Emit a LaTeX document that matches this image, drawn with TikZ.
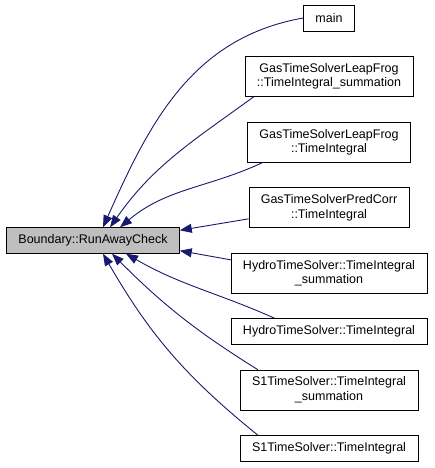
\documentclass[tikz,border=0pt]{standalone}
\usepackage{fontspec}
\setmainfont{Liberation Sans}
\usetikzlibrary{positioning, arrows.meta}
\definecolor{edgeblue}{HTML}{191970}
\definecolor{rootgrey}{HTML}{BFBFBF}
\tikzstyle{caller} = [rectangle, draw=black, fill=white, align=center, inner xsep=12pt, inner ysep=7pt, minimum height=26pt, font=\fontsize{12.5}{14.5}\selectfont]
\tikzstyle{target} = [caller, fill=rootgrey]
\tikzstyle{arrow} = [line width=0.9pt, ->, >={Triangle[length=12pt,width=9pt]}, draw=edgeblue]

\begin{document}
\begin{tikzpicture}[x=1pt, y=1pt, node distance=25pt]
\useasboundingbox (0,0) rectangle (435,468);

\node (check) [target] at (93,227.5) {Boundary::RunAwayCheck};
\node (main) [caller] at (329,450) {main};
\node (lfsum) [caller, below=of main] {GasTimeSolverLeapFrog\\::TimeIntegral\_summation};
\node (lfti) [caller, below=of lfsum] {GasTimeSolverLeapFrog\\::TimeIntegral};
\node (pcti) [caller, below=of lfti] {GasTimeSolverPredCorr\\::TimeIntegral};
\node (hsum) [caller, below=of pcti] {HydroTimeSolver::TimeIntegral\\\_summation};
\node (hti) [caller, below=of hsum] {HydroTimeSolver::TimeIntegral};
\node (sonesum) [caller, below=of hti] {S1TimeSolver::TimeIntegral\\\_summation};
\node (soneti) [caller, below=of sonesum] {S1TimeSolver::TimeIntegral};

\draw [arrow] (main.west) to[out=190, in=66] ([xshift=10pt]check.north);
\draw [arrow] ([xshift=9pt]lfsum.south west) to[out=216, in=55] ([xshift=17pt]check.north);
\draw [arrow] ([xshift=16pt]lfti.south west) to[out=205, in=40] ([xshift=27pt]check.north);
\draw [arrow] ([yshift=9pt]pcti.south west) -- ([yshift=-3pt]check.north east);
\draw [arrow] ([yshift=-7pt]hsum.north west) -- ([yshift=3pt]check.south east);
\draw [arrow] ([xshift=44pt]hti.north west) to[out=156, in=-30] ([xshift=33pt]check.south);
\draw [arrow] ([xshift=18pt]sonesum.north west) to[out=148, in=-45] ([xshift=19pt]check.south);
\draw [arrow] ([xshift=18pt]soneti.north west) to[out=141, in=-60] ([xshift=10pt]check.south);

\end{tikzpicture}
\end{document}
